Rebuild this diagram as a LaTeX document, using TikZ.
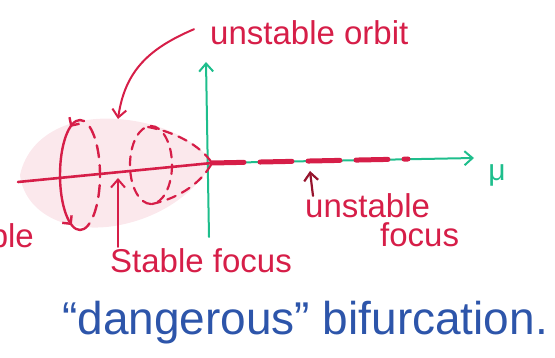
\documentclass[tikz,border=0pt]{standalone}
\usepackage{fontspec}
\setmainfont{Liberation Sans}
\usetikzlibrary{arrows.meta,decorations.markings}
\definecolor{ink}{RGB}{214,30,72}
\definecolor{darkink}{RGB}{150,20,45}
\definecolor{axis}{RGB}{30,190,140}
\definecolor{blueink}{RGB}{45,85,170}
\tikzset{
  redline/.style={draw=ink, line width=2.6pt, line cap=round},
  axisline/.style={draw=axis, line width=2pt, line cap=round},
  lbl/.style={text=ink, inner sep=0pt, font=\fontsize{33}{35}\selectfont},
  tip/.style={-{Straight Barb[length=8pt,width=14pt]}},
}
\begin{document}
\begin{tikzpicture}[x=1pt,y=-1pt]
\useasboundingbox (0,0) rectangle (555,358);
% coordinates
\coordinate (O) at (212,163);
\coordinate (xend) at (474,158);
\coordinate (yend) at (206,62);
\coordinate (ybot) at (209,237);
\coordinate (xleft) at (18,182);
% pink shading
\fill[ink, opacity=0.10] (20,175) .. controls (30,130) and (80,110) .. (140,122) .. controls (180,130) and (205,150) .. (O) .. controls (200,185) and (170,215) .. (120,225) .. controls (70,235) and (25,215) .. cycle;
% axes
\draw[axisline, tip] (ybot) -- (yend);
\draw[axisline, tip] (O) -- (xend);
\node[text=axis, font=\fontsize{30}{30}\selectfont, inner sep=0pt] (mu) at (497,175) {μ};
% red solid stable branch
\draw[redline] (xleft) -- (O);
% red dashed unstable branch
\draw[redline, line width=5pt, dash pattern=on 32pt off 16pt] (O) -- (408,159);
% unstable orbit cone
\draw[redline, line width=2.2pt, dash pattern=on 9pt off 7pt] (148,127) .. controls (175,132) and (200,145) .. (O);
\draw[redline, line width=2.2pt, dash pattern=on 9pt off 7pt] (152,204) .. controls (180,198) and (202,182) .. (O);
\draw[redline, line width=2.2pt, dash pattern=on 9pt off 7pt] (151,165) ellipse [x radius=21, y radius=39];
% big orbit: left half solid, right half dashed
\draw[redline, line width=2.4pt, postaction={decorate}, decoration={markings,
  mark=at position 0.1 with {\arrow{Straight Barb[length=6pt,width=12pt]}},
  mark=at position 0.92 with {\arrow{Straight Barb[length=6pt,width=12pt]}}}]
  (80,120) arc[start angle=270, end angle=90, x radius=20, y radius=55];
\draw[redline, line width=2.4pt, dash pattern=on 12pt off 8pt] (80,230) arc[start angle=90, end angle=-90, x radius=20, y radius=55];
% unstable orbit label and arrow
\node[lbl, anchor=base west] (uo) at (210,45) {unstable orbit};
\draw[redline, line width=2pt, tip] (uo.west) ++(-16,-4) coordinate (uos) .. controls (150,48) and (125,70) .. (118,119);
% stable focus
\node[lbl, anchor=base west] (sf) at (110,273) {Stable focus};
\coordinate (sfa) at (118,178);
\draw[redline, line width=2pt, tip] (sf.north west) ++(8,-2) -- (sfa);
% unstable focus
\node[lbl, anchor=base west] (uf1) at (305,218) {unstable};
\node[lbl, anchor=base west] (uf2) at (380,247) {focus};
\coordinate (ufa) at (310,171);
\draw[draw=darkink, line width=2.2pt, line cap=round, tip] (uf1.north west) ++(8,2) -- (ufa);
% clipped partial label at left edge
\begin{scope}
\clip (0,200) rectangle (60,260);
\node[lbl, anchor=base east] (st) at (34,248) {stable};
\end{scope}
% bottom text
\node[text=blueink, inner sep=0pt, anchor=base west, font=\fontsize{46}{48}\selectfont] (db) at (62,335) {``dangerous'' bifurcation.};
\end{tikzpicture}
\end{document}
